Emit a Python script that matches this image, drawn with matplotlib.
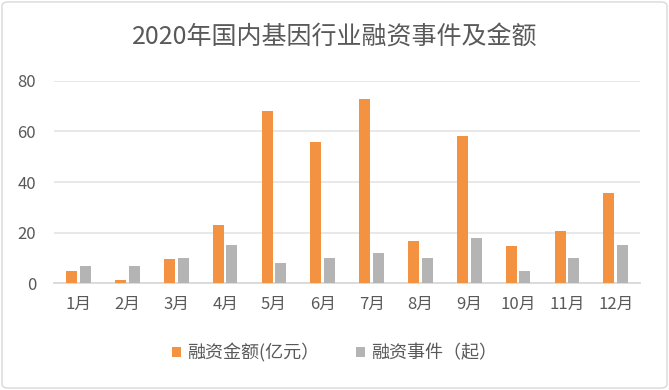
import matplotlib
matplotlib.use("Agg")
import matplotlib.pyplot as plt
from matplotlib.patches import FancyBboxPatch
import numpy as np

plt.rcParams['font.family'] = ['Noto Sans CJK SC', 'DejaVu Sans']

# data
months = ['1月', '2月', '3月', '4月', '5月', '6月', '7月', '8月', '9月', '10月', '11月', '12月']
amount = [5.0, 1.3, 9.6, 23.0, 68.0, 55.8, 72.8, 16.7, 58.2, 14.7, 20.7, 35.7]   # 融资金额(亿元)
events = [7, 7, 10, 15, 8, 10, 12, 10, 18, 5, 10, 15]                          # 融资事件（起）
yticks = [0, 20, 40, 60, 80]

orange = '#F39341'
grey = '#B4B4B4'
text_col = '#595959'

fig = plt.figure(figsize=(6.69, 3.9), dpi=100)
ax = fig.add_axes([0.081, 0.2736, 0.876, 0.5194])

x = np.arange(len(months))
w = 0.225
ax.bar(x - 0.14, amount, width=w, color=orange, label='融资金额(亿元）', zorder=3)
ax.bar(x + 0.14, events, width=w, color=grey, label='融资事件（起）', zorder=3)

ax.set_xlim(-0.5, len(months) - 0.5)
ax.set_ylim(0, 80)
ax.set_yticks(yticks)
ax.set_xticks(x)
ax.set_xticklabels(months)
ax.yaxis.grid(True, color='#E6E6E6', linewidth=1.3, zorder=0)
ax.set_axisbelow(True)

for s in ['top', 'right', 'left']:
    ax.spines[s].set_visible(False)
ax.spines['bottom'].set_color('#D9D9D9')
ax.spines['bottom'].set_linewidth(1.3)
ax.tick_params(axis='both', length=0, labelsize=12, colors=text_col)
ax.tick_params(axis='y', pad=13)
ax.tick_params(axis='x', pad=9)

fig.text(0.5, 1 - 38 / 390, '2020年国内基因行业融资事件及金额', ha='center', va='center',
         fontsize=18, color=text_col, fontweight='medium')

fig.legend(loc='center', bbox_to_anchor=(0.5, 1 - 353 / 390), ncol=2, frameon=False,
           fontsize=13, handlelength=0.5, handleheight=0.5, handletextpad=0.35,
           columnspacing=2.0, labelcolor=text_col)

# light frame around the chart
frame = FancyBboxPatch((0.003, 0.005), 0.994, 0.99, boxstyle='round,pad=0,rounding_size=0.01',
                       transform=fig.transFigure, facecolor='none', edgecolor='#D9D9D9',
                       linewidth=1.0)
fig.patches.append(frame)

fig.savefig('out.png', dpi=100)
